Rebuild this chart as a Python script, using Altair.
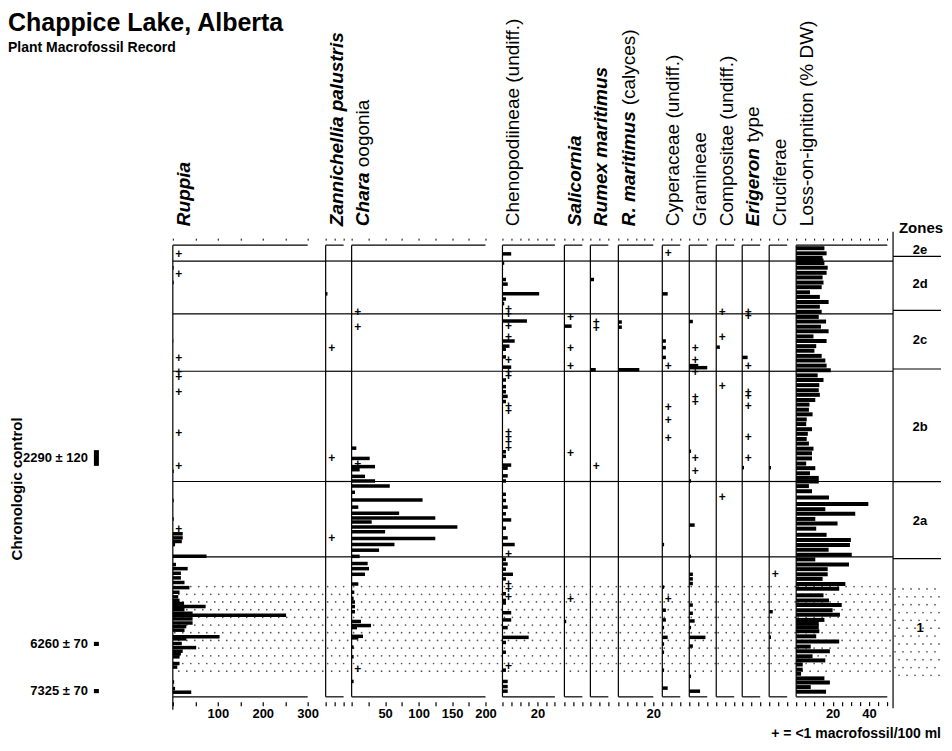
import altair as alt
import numpy as np
import pandas as pd

FONT = "Liberation Sans"

# ------------------------------------------------------------------ data
zone_bounds = [25, 128, 240, 455, 602]
zone_names = ["2e", "2d", "2c", "2b", "2a", "1"]
zone_label_depths = [12, 78, 185, 350, 530, 735]
stipple_interval = [655, 835]

date_labels = ["2290 ± 120", "6260 ± 70", "7325 ± 70"]
date_depths = [410, 765, 855]
date_tops = [395, 761, 851]
date_bottoms = [425, 769, 859]

ruppia_depths = [38, 67, 181, 435, 492, 528, 557, 565, 572, 578, 601, 617, 625, 634, 643, 652,
                 662, 671, 680, 687, 693, 699, 705, 712, 716, 723, 731, 738, 745, 758, 762, 771,
                 779, 786, 791, 797, 810, 817, 846, 859, 866]
ruppia_values = [2, 2, 1, 2, 2, 2, 22, 22, 20, 5, 75, 7, 33, 18, 18, 26,
                 37, 15, 12, 15, 25, 73, 26, 44, 252, 44, 44, 30, 26, 104, 30, 20,
                 52, 22, 18, 15, 15, 10, 3, 5, 41]
ruppia_plus = [11, 51, 215, 241, 251, 280, 360, 425, 547]

zann_depths = [89]
zann_values = [1]
zann_plus = [195, 410, 566]

chara_depths = [390, 410, 426, 432, 445, 454, 464, 476, 491, 505, 517, 526, 534, 544, 553, 566,
                578, 589, 601, 615, 625, 636, 655, 671, 683, 690, 699, 709, 728, 736, 740, 757,
                760, 778, 797, 845]
chara_values = [7, 27, 35, 12, 20, 35, 57, 5, 106, 10, 71, 125, 30, 158, 50, 125,
                64, 41, 12, 24, 26, 20, 10, 4, 3, 5, 5, 5, 14, 29, 8, 17,
                10, 3, 3, 3]
chara_plus = [124, 154, 420, 820]

cheno_depths = [11, 29, 61, 70, 89, 99, 108, 142, 181, 191, 197, 212, 232, 257, 270, 280, 289,
                299, 397, 406, 423, 429, 444, 454, 480, 492, 505, 518, 530, 546, 565, 578, 607,
                616, 626, 636, 645, 674, 687, 692, 711, 725, 740, 759, 769, 788, 823, 845, 855, 864]
cheno_values = [5, 1, 2, 3, 21, 2, 1, 14, 7, 4, 2, 2, 5, 2, 2, 2, 3,
                2, 2, 2, 5, 3, 3, 2, 2, 2, 3, 2, 5, 2, 3, 7, 2,
                3, 2, 6, 2, 2, 2, 2, 5, 5, 3, 15, 2, 2, 2, 3, 3, 3]
cheno_plus = [119, 129, 152, 173, 219, 242, 250, 308, 318, 359, 368, 378, 389, 597, 654, 664,
              680, 814]

sali_depths = [152, 728]
sali_values = [4, 1]
sali_plus = [134, 194, 229, 399, 684]

rumex_depths = [61, 237]
rumex_values = [2, 3]
rumex_plus = [144, 155, 425]

calyx_depths = [144, 154, 237]
calyx_values = [2, 2, 12]
calyx_plus = []

cyper_depths = [89, 181, 194, 213, 578, 661, 706, 725, 740, 759, 772, 788, 823, 858]
cyper_values = [3, 2, 2, 2, 1, 1, 2, 2, 1, 3, 1, 1, 1, 3]
cyper_plus = [10, 229, 309, 335, 370, 684]

gram_depths = [143, 229, 233, 396, 454, 540, 601, 636, 645, 654, 696, 712, 727, 740, 759, 776,
               835, 864]
gram_values = [2, 5, 10, 1, 1, 3, 1, 2, 2, 2, 2, 2, 3, 1, 9, 2, 1, 6]
gram_plus = [194, 218, 242, 290, 299, 410, 434]

compo_depths = [193]
compo_values = [2]
compo_plus = [124, 173, 269, 485]

eri_depths = [213, 428]
eri_values = [3, 1]
eri_plus = [124, 132, 229, 280, 289, 308, 369, 410]

cruci_depths = [428, 709, 759]
cruci_values = [1, 2, 1]
cruci_plus = [635]

loi_depths = [0, 10, 19, 24, 29, 38, 48, 57, 67, 76, 86, 95, 105, 114, 124, 134, 143, 153, 162,
              172, 181, 191, 200, 210, 219, 229, 238, 248, 257, 267, 277, 286, 296, 305, 315,
              324, 334, 343, 353, 362, 372, 381, 391, 400, 410, 420, 429, 439, 448, 455, 464,
              474, 486, 499, 509, 518, 528, 537, 547, 559, 569, 579, 588, 598, 607, 617, 626,
              636, 645, 655, 664, 677, 687, 696, 706, 715, 725, 731, 739, 747, 757, 767, 777,
              786, 796, 804, 812, 822, 830, 839, 847, 856, 865]
loi_values = [15.5, 16.7, 14.5, 15, 15.5, 17.3, 16.7, 14.5, 15, 14, 7.6, 13, 17.8, 13, 14, 12.4,
              16.4, 13.6, 17.8, 9.5, 16.7, 11, 10, 14, 16, 16.7, 19, 11.8, 15, 12.7, 12.4, 13,
              10.5, 7.3, 7, 9, 5.8, 5.5, 8.7, 6.4, 5.8, 7, 9.5, 8.7, 8.7, 5.5, 10.5, 7.6, 12.4,
              12.4, 7, 8.7, 18, 39.6, 16, 32.4, 10.5, 22.7, 11, 16.7, 30, 29.5, 17.8, 30.5, 10.5,
              29, 17.3, 17.3, 14.5, 27, 23.6, 15, 18, 25, 20, 24, 15.5, 12.4, 12.4, 12.7, 11,
              23.6, 8, 18.5, 9, 16, 3.6, 3.6, 2.7, 15.5, 18.5, 8, 16.4]

# ------------------------------------------------------------------ layout / style
TOP, BOTTOM_AXIS, BOTTOM = -6, 875, 900
H = 475
LABEL_SIZE = 19
ys = alt.Scale(domain=[TOP, BOTTOM], reverse=True, nice=False, zero=False)

panels = [
    dict(segs=[("Ruppia", "italic", "bold", 0)], w=153, ppu=0.45, amax=300, step=50,
         labs=[100, 200, 300], d=ruppia_depths, v=ruppia_values, p=ruppia_plus, bar=3.5),
    dict(segs=[("Zannichellia palustris", "italic", "bold", 0)], w=26, ppu=1.8, amax=10, step=5,
         labs=[], d=zann_depths, v=zann_values, p=zann_plus, bar=3.5),
    dict(segs=[("Chara", "italic", "bold", 0), ("oogonia", "normal", "normal", 59)], w=151,
         ppu=0.67, amax=200, step=25, labs=[50, 100, 150, 200], d=chara_depths, v=chara_values,
         p=chara_plus, bar=3.5),
    dict(segs=[("Chenopodiineae (undiff.)", "normal", "normal", 0)], w=62, ppu=1.75, amax=30,
         step=5, labs=[20], d=cheno_depths, v=cheno_values, p=cheno_plus, bar=3.5),
    dict(segs=[("Salicornia", "italic", "bold", 0)], w=26, ppu=1.8, amax=10, step=5, labs=[],
         d=sali_depths, v=sali_values, p=sali_plus, bar=3.5),
    dict(segs=[("Rumex maritimus", "italic", "bold", 0)], w=28, ppu=1.8, amax=10, step=5,
         labs=[], d=rumex_depths, v=rumex_values, p=rumex_plus, bar=3.5),
    dict(segs=[("R. maritimus", "italic", "bold", 0), ("(calyces)", "normal", "normal", 121)],
         w=44, ppu=1.75, amax=20, step=5, labs=[20], d=calyx_depths, v=calyx_values,
         p=calyx_plus, bar=3.5),
    dict(segs=[("Cyperaceae (undiff.)", "normal", "normal", 0)], w=27, ppu=1.8, amax=10, step=5,
         labs=[], d=cyper_depths, v=cyper_values, p=cyper_plus, bar=3.5),
    dict(segs=[("Gramineae", "normal", "normal", 0)], w=27, ppu=1.8, amax=10, step=5, labs=[],
         d=gram_depths, v=gram_values, p=gram_plus, bar=3.5),
    dict(segs=[("Compositae (undiff.)", "normal", "normal", 0)], w=26, ppu=1.8, amax=10, step=5,
         labs=[], d=compo_depths, v=compo_values, p=compo_plus, bar=3.5),
    dict(segs=[("Erigeron", "italic", "bold", 0), ("type", "normal", "normal", 84)], w=27,
         ppu=1.8, amax=10, step=5, labs=[], d=eri_depths, v=eri_values, p=eri_plus, bar=3.5),
    dict(segs=[("Cruciferae", "normal", "normal", 0)], w=27, ppu=1.8, amax=10, step=5, labs=[],
         d=cruci_depths, v=cruci_values, p=cruci_plus, bar=3.5),
    dict(segs=[("Loss-on-ignition (% DW)", "normal", "normal", 0)], w=97, ppu=1.825, amax=50,
         step=5, labs=[20, 40], d=loi_depths, v=loi_values, p=[], bar=4),
]

one = pd.DataFrame({"a": [0]})


def stipple_layer(w, ppu, xs):
    sx, sd = [], []
    rows = np.arange(stipple_interval[0] + 5, stipple_interval[1], 15)
    for r, dep in enumerate(rows):
        start = 2 if r % 2 == 0 else 6
        for px in np.arange(start, w, 8):
            sx.append(px / ppu)
            sd.append(dep)
    df = pd.DataFrame({"x": sx, "d": sd})
    return alt.Chart(df).mark_circle(size=3, color="#555", opacity=1).encode(
        x=alt.X("x:Q", scale=xs, axis=None), y=alt.Y("d:Q", scale=ys, axis=None))


def zone_rule_layer():
    return alt.Chart(pd.DataFrame({"d": zone_bounds})).mark_rule(
        color="black", strokeWidth=1.2).encode(y=alt.Y("d:Q", scale=ys, axis=None))


def taxon_panel(p, first=False):
    w, ppu = p["w"], p["ppu"]
    dmax = w / ppu
    xs = alt.Scale(domain=[0, dmax], nice=False, zero=False)
    ticks = list(range(0, p["amax"] + 1, p["step"]))
    labs = p["labs"]
    lab_expr = (f"indexof({labs}, datum.value) >= 0 ? datum.label : ''" if labs else "''")

    top_axis = alt.Axis(orient="top", values=ticks, labels=False, domain=False, tickSize=2,
                        tickColor="black", tickWidth=1, grid=False, title=None)
    bot_axis = alt.Axis(orient="bottom", values=ticks, domain=False, tickSize=4,
                        tickColor="black", tickWidth=1.2, offset=-13, labelExpr=lab_expr,
                        labelFont=FONT, labelFontSize=13, labelFontWeight="bold",
                        labelColor="black", labelPadding=2, labelOverlap=False,
                        labelFlush=False, grid=False, title=None)

    layers = [stipple_layer(w, ppu, xs), zone_rule_layer()]

    top_df = pd.DataFrame({"x0": [0], "x1": [p["amax"]], "d": [TOP]})
    layers.append(alt.Chart(top_df).mark_rule(color="black", strokeWidth=1.2).encode(
        x=alt.X("x0:Q", scale=xs, axis=top_axis), x2="x1:Q",
        y=alt.Y("d:Q", scale=ys, axis=None)))
    bot_df = pd.DataFrame({"x0": [0], "x1": [p["amax"]], "d": [BOTTOM_AXIS]})
    layers.append(alt.Chart(bot_df).mark_rule(color="black", strokeWidth=1.2).encode(
        x=alt.X("x0:Q", scale=xs, axis=bot_axis), x2="x1:Q",
        y=alt.Y("d:Q", scale=ys, axis=None)))

    if first:
        depth_axis = alt.Axis(values=list(range(0, 901, 50)), title="Depth (cm)",
                              titleFont=FONT, titleFontSize=15, titleFontWeight="bold",
                              titleColor="black", titlePadding=12, labelFont=FONT,
                              labelFontSize=13, labelFontWeight="bold", labelColor="black",
                              labelPadding=3, tickSize=7, tickColor="black", tickWidth=1.2,
                              domain=True, domainColor="black", domainWidth=1.2, grid=False,
                              labelOverlap=False, labelFlush=False)
        vdf = pd.DataFrame({"x": [0], "d0": [TOP], "d1": [BOTTOM]})
        layers.append(alt.Chart(vdf).mark_rule(color="black", strokeWidth=1.2).encode(
            x=alt.X("x:Q", scale=xs, axis=None),
            y=alt.Y("d0:Q", scale=ys, axis=depth_axis), y2="d1:Q"))
    else:
        vdf = pd.DataFrame({"x": [0], "d0": [TOP], "d1": [BOTTOM_AXIS]})
        layers.append(alt.Chart(vdf).mark_rule(color="black", strokeWidth=1.2).encode(
            x=alt.X("x:Q", scale=xs, axis=None),
            y=alt.Y("d0:Q", scale=ys, axis=None), y2="d1:Q"))

    if p["d"]:
        bdf = pd.DataFrame({"d": p["d"], "v": p["v"]})
        layers.append(alt.Chart(bdf).mark_bar(orient="horizontal", size=p["bar"],
                                              color="black").encode(
            x=alt.X("v:Q", scale=xs, axis=None), y=alt.Y("d:Q", scale=ys, axis=None)))
    if p["p"]:
        pdf = pd.DataFrame({"d": p["p"]})
        layers.append(alt.Chart(pdf).mark_text(text="+", font=FONT, fontSize=12,
                                               fontWeight="bold", color="black",
                                               baseline="middle", align="center").encode(
            x=alt.value(6), y=alt.Y("d:Q", scale=ys, axis=None)))

    for text, style, weight, off in p["segs"]:
        layers.append(alt.Chart(one).mark_text(
            text=text, angle=270, align="left", baseline="alphabetic", font=FONT,
            fontSize=LABEL_SIZE, fontStyle=style, fontWeight=weight, color="black").encode(
            x=alt.value(17), y=alt.value(-14 - off)))

    return alt.layer(*layers).resolve_axis(x="independent").properties(width=w, height=H)


# ---- chronology / title panel (left)
CW = 165
date_df = pd.DataFrame({"label": date_labels, "d": date_depths, "top": date_tops,
                        "bot": date_bottoms})
chrono = alt.layer(
    alt.Chart(date_df).mark_text(font=FONT, fontSize=13, fontWeight="bold", align="right",
                                 baseline="middle", color="black").encode(
        x=alt.value(80), y=alt.Y("d:Q", scale=ys, axis=None), text="label:N"),
    alt.Chart(date_df).mark_rect(color="black").encode(
        x=alt.value(86), x2=alt.value(91), y=alt.Y("top:Q", scale=ys, axis=None), y2="bot:Q"),
    alt.Chart(one).mark_text(text="Chronologic control", angle=270, align="center",
                             baseline="middle", font=FONT, fontSize=15, fontWeight="bold",
                             color="black").encode(x=alt.value(9), y=alt.value(249)),
    alt.Chart(one).mark_text(text="Chappice Lake, Alberta", align="left", baseline="alphabetic",
                             font=FONT, fontSize=25, fontWeight="bold", color="black").encode(
        x=alt.value(0), y=alt.value(-209)),
    alt.Chart(one).mark_text(text="Plant Macrofossil Record", align="left",
                             baseline="alphabetic", font=FONT, fontSize=14, fontWeight="bold",
                             color="black").encode(x=alt.value(0), y=alt.value(-188)),
).properties(width=CW, height=H)

# ---- zones panel (right)
ZW = 48
zxs = alt.Scale(domain=[0, ZW], nice=False, zero=False)
zlab_df = pd.DataFrame({"z": zone_names, "d": zone_label_depths})
zones = alt.layer(
    stipple_layer(ZW, 1.0, zxs),
    zone_rule_layer(),
    alt.Chart(pd.DataFrame({"x": [0], "d0": [-22], "d1": [888]})).mark_rule(
        color="black", strokeWidth=1.2).encode(
        x=alt.X("x:Q", scale=zxs, axis=None), y=alt.Y("d0:Q", scale=ys, axis=None), y2="d1:Q"),
    alt.Chart(zlab_df).mark_text(font=FONT, fontSize=13, fontWeight="bold", color="black",
                                 align="center", baseline="middle").encode(
        x=alt.value(27), y=alt.Y("d:Q", scale=ys, axis=None), text="z:N"),
    alt.Chart(one).mark_text(text="Zones", font=FONT, fontSize=15, fontWeight="bold",
                             color="black", align="center", baseline="middle").encode(
        x=alt.value(28), y=alt.value(-12)),
    alt.Chart(one).mark_text(text="+ = <1 macrofossil/100 ml", font=FONT, fontSize=14,
                             fontWeight="bold", color="black", align="right",
                             baseline="middle").encode(x=alt.value(ZW), y=alt.value(494)),
).properties(width=ZW, height=H)

cells = [chrono] + [taxon_panel(p, first=(i == 0)) for i, p in enumerate(panels)] + [zones]

chart = alt.hconcat(*cells, spacing=0, bounds="flush").properties(
    padding={"top": 3, "left": 0, "right": 0, "bottom": 0}).configure_view(stroke=None)

chart.save("out.html", embed_options={"renderer": "svg", "actions": False})
